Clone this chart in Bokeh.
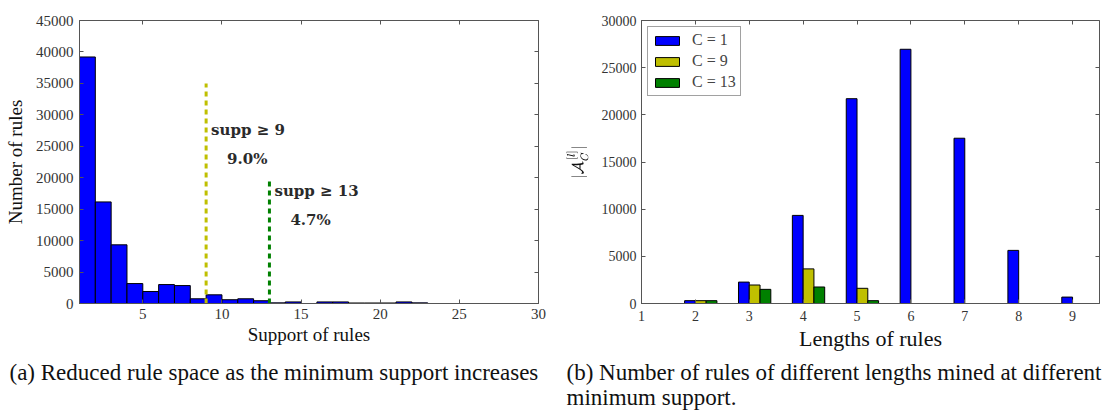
from bokeh.plotting import figure
from bokeh.models import (Range1d, LinearAxis, FixedTicker, BasicTickFormatter,
                          ColumnDataSource, Label, CustomJSTickFormatter)
from bokeh.transform import dodge
from bokeh.layouts import column, row
from bokeh.embed import file_html
from bokeh.resources import INLINE
from bokeh.core.properties import value

# ---------------- data ----------------
# (a) histogram of rule support (bins of width 1 starting at 1)
support_bin_left = list(range(1, 24))
rule_counts = [39200, 16150, 9330, 3170, 1910, 3010, 2850, 750, 1380, 600,
               750, 440, 100, 250, 0, 250, 250, 80, 80, 80, 250, 100, 0]
thresholds = [9, 13]
threshold_tops = [35000, 20000]
threshold_texts = ["supp \u2265 9", "supp \u2265 13"]
threshold_text_y = [27600, 17900]
threshold_pcts = ["9.0%", "4.7%"]
threshold_pct_y = [22900, 13300]

# (b) number of rules per length for different minimum supports
lengths = [2, 3, 4, 5, 6, 7, 8, 9]
c1 = [300, 2270, 9340, 21710, 26950, 17520, 5630, 680]
c9 = [300, 1960, 3670, 1610, 0, 0, 0, 0]
c13 = [300, 1500, 1750, 300, 0, 0, 0, 0]

x_ticks_a = [5, 10, 15, 20, 25, 30]
y_ticks_a = list(range(0, 45001, 5000))
x_ticks_b = list(range(1, 10))
y_ticks_b = list(range(0, 30001, 5000))

SERIF = "Liberation Serif"
BLUE = "#0000ff"
YELLOW = "#bfbf00"
GREEN = "#008000"
FRAME = "#555555"


def style_axes(p, xt, yt, tick_size, label_size):
    xa = p.below[0]
    ya = p.left[0]
    for ax in (xa, ya):
        ax.major_tick_in = 4
        ax.major_tick_out = 0
        ax.minor_tick_line_color = None
        ax.axis_line_color = FRAME
        ax.major_tick_line_color = FRAME
        ax.major_label_text_font = SERIF
        ax.major_label_text_font_size = tick_size
        ax.major_label_text_color = "#333333"
        ax.axis_label_text_font = SERIF
        ax.axis_label_text_font_size = label_size
        ax.axis_label_text_font_style = "normal"
        ax.axis_label_text_color = "#111111"
        ax.formatter = BasicTickFormatter(use_scientific=False)
    xa.ticker = FixedTicker(ticks=xt)
    ya.ticker = FixedTicker(ticks=yt)
    for loc, t in (("right", yt), ("above", xt)):
        ax = LinearAxis(ticker=FixedTicker(ticks=t),
                        formatter=CustomJSTickFormatter(code="return ''"),
                        major_label_text_font_size="1px",
                        major_tick_in=4, major_tick_out=0,
                        minor_tick_line_color=None,
                        axis_line_color=None,
                        major_tick_line_color=FRAME,
                        major_label_standoff=0)
        p.add_layout(ax, loc)
    p.xgrid.grid_line_color = None
    p.ygrid.grid_line_color = None
    p.outline_line_color = FRAME
    p.outline_line_width = 1
    p.background_fill_color = "white"
    p.border_fill_color = "white"
    return xa, ya


# ---------------- panel (a) ----------------
p1 = figure(width=559, height=355, output_backend="svg", toolbar_location=None,
            x_range=Range1d(1, 30), y_range=Range1d(0, 45000),
            min_border_left=79, min_border_right=21, min_border_top=15,
            min_border_bottom=52)
xa1, ya1 = style_axes(p1, x_ticks_a, y_ticks_a, "15px", "19px")
xa1.axis_label = "Support of rules"
ya1.axis_label = "Number of rules"
xa1.major_label_standoff = 5
xa1.axis_label_standoff = 2
ya1.major_label_standoff = 6
ya1.axis_label_standoff = 7

src_a = ColumnDataSource(dict(left=support_bin_left,
                              right=[b + 1 for b in support_bin_left],
                              top=rule_counts))
p1.quad(left="left", right="right", bottom=0, top="top", source=src_a,
        fill_color=BLUE, line_color="black", line_width=1)

for xv, top, col in zip(thresholds, threshold_tops, [YELLOW, GREEN]):
    p1.segment(x0=[xv], y0=[0], x1=[xv], y1=[top], line_color=col,
               line_width=3, line_dash="5 4")

for xv, ty, txt, py, pct in zip(thresholds, threshold_text_y, threshold_texts,
                                threshold_pct_y, threshold_pcts):
    p1.add_layout(Label(x=xv, y=ty, x_offset=5, text=txt,
                        text_font="DejaVu Serif", text_font_size="15px",
                        text_font_style="bold", text_color="#2a2a2a",
                        text_baseline="middle"))
    p1.add_layout(Label(x=xv, y=py, x_offset=21, text=pct,
                        text_font="DejaVu Serif", text_font_size="15px",
                        text_font_style="bold", text_color="#2a2a2a",
                        text_baseline="middle"))

# ---------------- panel (b) ----------------
p2 = figure(width=560, height=355, output_backend="svg", toolbar_location=None,
            x_range=Range1d(1, 9.5), y_range=Range1d(0, 30000),
            min_border_left=82, min_border_right=20, min_border_top=20,
            min_border_bottom=49)
xa2, ya2 = style_axes(p2, x_ticks_b, y_ticks_b, "14px", "22px")
xa2.axis_label = "Lengths of rules"
ya2.axis_label = r"$$|\mathcal{A}_C^{[l]}|$$"
ya2.axis_label_text_font_size = "15px"
xa2.major_label_standoff = 7
xa2.axis_label_standoff = 2
ya2.major_label_standoff = 5
ya2.axis_label_standoff = 10

src_b = ColumnDataSource(dict(length=lengths, c1=c1, c9=c9, c13=c13))
p2.vbar(x=dodge("length", -0.1), top="c1", width=0.2, source=src_b,
        fill_color=BLUE, line_color="black", line_width=1, legend_label="C = 1")
p2.vbar(x=dodge("length", 0.1), top="c9", width=0.2, source=src_b,
        fill_color=YELLOW, line_color="black", line_width=1, legend_label="C = 9")
p2.vbar(x=dodge("length", 0.3), top="c13", width=0.2, source=src_b,
        fill_color=GREEN, line_color="black", line_width=1, legend_label="C = 13")

lg = p2.legend[0]
lg.location = "top_left"
lg.margin = 6
lg.padding = 4
lg.spacing = 3
lg.label_text_font = SERIF
lg.label_text_font_size = "16px"
lg.label_standoff = 10
lg.glyph_width = 30
lg.glyph_height = 11
lg.label_height = 18
lg.border_line_color = "#444444"
lg.border_line_width = 1.5
lg.background_fill_alpha = 1

# ---------------- captions ----------------
cap = figure(width=1119, height=61, output_backend="svg", toolbar_location=None,
             x_range=Range1d(0, 1119), y_range=Range1d(0, 61),
             min_border=0, x_axis_type=None, y_axis_type=None)
cap.outline_line_color = None
cap.xgrid.grid_line_color = None
cap.ygrid.grid_line_color = None
cap.text(x=[9], y=[44], text=["(a) Reduced rule space as the minimum support increases"],
         text_font=value(SERIF), text_font_size="23px", text_baseline="middle",
         text_color="#111111")
cap.text(x=[566], y=[44], text=["(b) Number of rules of different lengths mined at different"],
         text_font=value(SERIF), text_font_size="23px", text_baseline="middle",
         text_color="#111111")
cap.text(x=[566], y=[19], text=["minimum support."],
         text_font=value(SERIF), text_font_size="23px", text_baseline="middle",
         text_color="#111111")

layout = column(row(p1, p2), cap)
open("out.html", "w").write(file_html(layout, INLINE))
